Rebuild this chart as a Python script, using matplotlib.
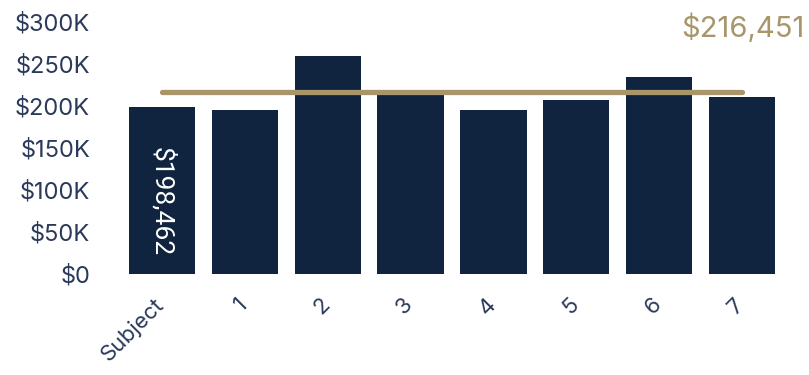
import matplotlib
matplotlib.use("Agg")
import matplotlib.pyplot as plt
from matplotlib.ticker import FuncFormatter
from matplotlib.transforms import ScaledTranslation

categories = ["Subject", "1", "2", "3", "4", "5", "6", "7"]
values = [198462, 195000, 259500, 214000, 195000, 206500, 234500, 210500]
average_value = 216451
subject_label = "$198,462"
average_label = "$216,451"

bar_color = "#10243f"
gold = "#a8966a"
text_color = "#2b3a5a"

plt.rcParams['font.family'] = ['Inter', 'DejaVu Sans']

fig = plt.figure(figsize=(8.09, 3.75), dpi=100)
ax = fig.add_axes([129/809, (375-273.5)/375, (775-129)/809, (273.5-21.5)/375])

x = list(range(len(categories)))
ax.bar(x, values, width=0.8, color=bar_color, zorder=2)
ax.plot([x[0], x[-1]], [average_value, average_value], color=gold, lw=3.8,
        solid_capstyle='round', zorder=3)

ax.text(x[0], 86000, subject_label, rotation=270, color="white", fontsize=19,
        family=['Roboto', 'DejaVu Sans'],
        ha='center', va='center', zorder=4)
fig.text(805/809, 1 - 28/375, average_label, color=gold, fontsize=21,
         ha='right', va='center')

ax.set_xlim(-0.4, len(categories) - 0.6)
ax.set_ylim(0, 300000)
ax.set_yticks([0, 50000, 100000, 150000, 200000, 250000, 300000])
ax.yaxis.set_major_formatter(FuncFormatter(lambda v, p: "$0" if v == 0 else f"${int(v/1000)}K"))
ax.tick_params(axis='y', length=0, pad=28, labelsize=17, labelcolor=text_color)
ax.set_xticks(x)
ax.set_xticklabels(categories)
ax.tick_params(axis='x', length=0, pad=15, labelsize=16, labelcolor=text_color)
offset = ScaledTranslation(6/100, 0, fig.dpi_scale_trans)
for lab in ax.get_xticklabels():
    lab.set_rotation(45)
    lab.set_ha('right')
    lab.set_va('top')
    lab.set_transform(lab.get_transform() + offset)

for s in ax.spines.values():
    s.set_visible(False)

fig.savefig("out.png", dpi=100)
